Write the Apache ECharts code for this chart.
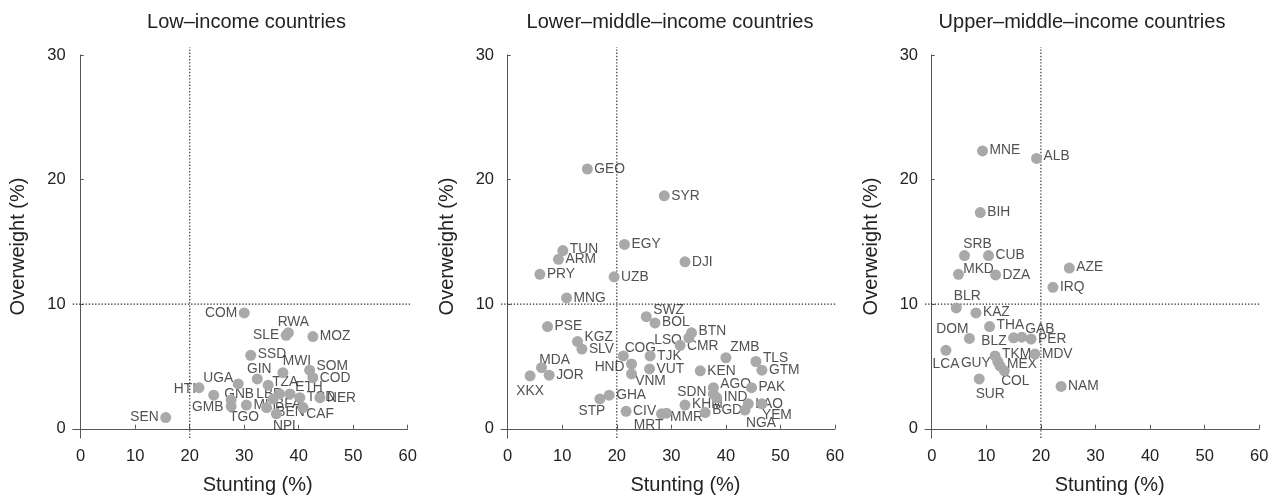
<!DOCTYPE html>
<html><head><meta charset="utf-8">
<script src="https://cdn.jsdelivr.net/npm/echarts@6/dist/echarts.min.js"></script>
<style>html,body{margin:0;padding:0;background:#fff}#c{width:1281px;height:500px}</style>
</head><body><div id="c"></div><script>
const panelTitles = ['Low–income countries', 'Lower–middle–income countries', 'Upper–middle–income countries'];
const xAxisName = 'Stunting (%)';
const yAxisName = 'Overweight (%)';
const xTicks = [0, 10, 20, 30, 40, 50, 60];
const yTicks = [0, 10, 20, 30];
const stuntingCut = 20;
const overweightCut = 10;

// Low-income countries
const lowCodes     = ['COM','RWA','SLE','MOZ','SSD','MWI','SOM','COD','GIN','UGA','HTI','TZA','GMB','GNB','TGO','MLI','LBR','ETH','TCD','NER','BFA','BEN','NPL','CAF','SEN'];
const lowStunting  = [30.0, 38.1, 37.7, 42.6, 31.2, 37.1, 42.0, 42.6, 32.4, 28.9, 21.7, 34.4, 24.4, 27.6, 27.6, 30.4, 36.5, 38.4, 40.2, 43.9, 35.3, 34.1, 35.9, 40.8, 15.6];
const lowOverweight= [9.3,  7.7,  7.5,  7.4,  5.9,  4.5,  4.7,  4.1,  4.0,  3.6,  3.3,  3.5,  2.7,  2.3,  1.8,  1.9,  2.8,  2.8,  2.5,  2.5,  2.4,  1.7,  1.2,  1.7,  0.9];

// Lower-middle-income countries
const lmCodes      = ['GEO','SYR','EGY','TUN','ARM','DJI','PRY','UZB','MNG','SWZ','BOL','PSE','BTN','LSO','KGZ','SLV','CMR','COG','TJK','HND','VUT','VNM','ZMB','TLS','GTM','KEN','MDA','JOR','XKX','AGO','PAK','GHA','STP','SDN','IND','KHM','LAO','YEM','BGD','NGA','CIV','MRT','MMR'];
const lmStunting   = [14.6, 28.7, 21.4, 10.1, 9.3, 32.5, 5.9, 19.5, 10.8, 25.4, 27.0, 7.3, 33.7, 33.2, 12.8, 13.6, 31.6, 21.2, 26.1, 22.7, 26.0, 22.7, 40.0, 45.5, 46.6, 35.3, 6.2, 7.6, 4.1, 37.7, 44.7, 18.6, 16.9, 37.7, 38.3, 32.5, 44.1, 46.6, 36.2, 43.5, 21.7, 28.2, 29.1];
const lmOverweight = [20.85, 18.7, 14.8, 14.3, 13.6, 13.4, 12.4, 12.2, 10.5, 9.0, 8.5, 8.2, 7.7, 7.3, 7.0, 6.4, 6.7, 5.85, 5.85, 5.2, 4.8, 4.4, 5.7, 5.4, 4.7, 4.65, 4.9, 4.3, 4.25, 3.3, 3.3, 2.7, 2.4, 2.8, 2.5, 1.9, 2.0, 2.0, 1.3, 1.5, 1.4, 1.2, 1.25];

// Upper-middle-income countries
const umCodes      = ['MNE','ALB','BIH','SRB','CUB','MKD','DZA','AZE','IRQ','BLR','KAZ','THA','DOM','BLZ','GAB','PER','LCA','MDV','TKM','GUY','MEX','COL','SUR','NAM'];
const umStunting   = [9.3, 19.2, 8.9, 6.0, 10.4, 4.9, 11.7, 25.2, 22.2, 4.5, 8.1, 10.6, 6.9, 15.0, 16.5, 18.2, 2.6, 18.9, 11.6, 12.1, 12.5, 13.3, 8.7, 23.7];
const umOverweight = [22.3, 21.7, 17.35, 13.9, 13.9, 12.4, 12.35, 12.9, 11.35, 9.7, 9.3, 8.2, 7.25, 7.3, 7.35, 7.2, 6.3, 6.0, 5.85, 5.4, 5.05, 4.65, 4.0, 3.4];

// label placement (style only): [side, dx, dy]
const labelPlace = {
  COM:['l',0,0], RWA:['c',5,-11], SLE:['l',0,0], MOZ:['r',0,0], SSD:['r',0,-1], MWI:['c',14,-12], SOM:['r',0,-4], COD:['r',0,0],
  GIN:['c',2,-10], UGA:['c',-20,-6], HTI:['l',4,2], TZA:['c',17,-3], GMB:['c',-6,12], GNB:['c',8,-6], TGO:['c',13,11], MLI:['r',0,0],
  LBR:['c',-10,0], ETH:['c',19,-7], TCD:['r',0,0], NER:['r',0,1], BFA:['c',15,5], BEN:['c',24,5], NPL:['c',10,12], CAF:['c',17,7], SEN:['l',0,0],
  GEO:['r',0,0], SYR:['r',0,0], EGY:['r',0,0], TUN:['r',0,-1], ARM:['r',0,0], DJI:['r',0,0], PRY:['r',0,0], UZB:['r',0,0], MNG:['r',0,0],
  SWZ:['r',0,-6], BOL:['r',0,-1], PSE:['r',0,0], BTN:['r',0,-2], LSO:['l',0,2], KGZ:['r',0,-4], SLV:['r',0,0], CMR:['r',0,1],
  COG:['c',17,-8], TJK:['r',0,0], HND:['l',0,3], VUT:['r',0,0], VNM:['c',19,7], ZMB:['c',19,-11], TLS:['r',0,-3], GTM:['r',0,0],
  KEN:['r',0,0], MDA:['c',13,-8], JOR:['r',0,0], XKX:['b',0,1], AGO:['r',0,-3], PAK:['r',0,0], GHA:['r',0,0], STP:['c',-8,12],
  SDN:['l',0,-2], IND:['r',0,0], KHM:['r',0,-1], LAO:['r',0,0], YEM:['c',15,11], BGD:['r',0,-2], NGA:['c',16,13], CIV:['r',0,0],
  MRT:['c',-13,11], MMR:['c',20,4],
  MNE:['r',0,-1], ALB:['r',0,-2], BIH:['r',0,0], SRB:['c',13,-11], CUB:['r',0,0], MKD:['c',20,-5], DZA:['r',0,0], AZE:['r',0,-1],
  IRQ:['r',0,0], BLR:['c',11,-12], KAZ:['r',0,-1], THA:['r',0,-1], DOM:['c',-17,-9], BLZ:['l',0,3], GAB:['c',18,-8], PER:['r',0,0],
  LCA:['b',0,0], MDV:['r',0,0], TKM:['r',0,-2], GUY:['l',0,2], MEX:['r',0,-2], COL:['c',11,10], SUR:['c',11,15], NAM:['r',0,0]
};

const panels = [
  {codes: lowCodes, xs: lowStunting, ys: lowOverweight},
  {codes: lmCodes, xs: lmStunting, ys: lmOverweight},
  {codes: umCodes, xs: umStunting, ys: umOverweight}
];

const FONT = '"Liberation Sans", Arial, Helvetica, sans-serif';
const gridLeft = [72.7, 501, 925];
const gridWidth = [335, 334, 334.3];
const xMin = [-1.47, -1.23, -1.23];
const yMin = -0.74;
const refXEnd = 61.3, refYEnd = 30.65;
const ptColor = '#a9a9a9';
const axisColor = '#555';
const SYM = 11, R = SYM / 2, GAP = 1.5;

function labelCfg(lp) {
  const [side, dx, dy] = lp;
  if (side === 'r') return {position: [SYM + GAP + dx, R + dy], align: 'left', verticalAlign: 'middle'};
  if (side === 'l') return {position: [-GAP + dx, R + dy], align: 'right', verticalAlign: 'middle'};
  if (side === 'b') return {position: [R + dx, SYM + GAP + dy], align: 'center', verticalAlign: 'top'};
  if (side === 't') return {position: [R + dx, -GAP + dy], align: 'center', verticalAlign: 'bottom'};
  return {position: [R + dx, R + dy], align: 'center', verticalAlign: 'middle'};
}

const grid = [], xAxis = [], yAxis = [], series = [], graphic = [];

panels.forEach((p, i) => {
  grid.push({left: gridLeft[i], width: gridWidth[i], top: 55, height: 386, containLabel: false});
  xAxis.push({
    type: 'value', gridIndex: i, min: xMin[i], max: 60,
    axisLine: {show: true, lineStyle: {color: axisColor, width: 1}},
    axisTick: {show: true, inside: true, length: 4, lineStyle: {color: axisColor}, customValues: xTicks},
    axisLabel: {customValues: xTicks, fontSize: 16.5, color: '#222', fontFamily: FONT, margin: 10},
    splitLine: {show: false},
    name: xAxisName, nameLocation: 'middle', nameGap: 37,
    nameTextStyle: {fontSize: 20, color: '#222', fontFamily: FONT, padding: [0, 0, 0, 35]}
  });
  yAxis.push({
    type: 'value', gridIndex: i, min: yMin, max: 30,
    axisLine: {show: true, lineStyle: {color: axisColor, width: 1}},
    axisTick: {show: true, inside: true, length: 3, lineStyle: {color: axisColor}, customValues: yTicks},
    axisLabel: {customValues: yTicks, fontSize: 16.5, color: '#222', fontFamily: FONT, margin: 7},
    splitLine: {show: false},
    name: yAxisName, nameLocation: 'middle', nameGap: 44, nameRotate: 90,
    nameTextStyle: {fontSize: 20, color: '#222', fontFamily: FONT}
  });
  const refStyle = {color: '#333', width: 1.2, type: [1.4, 1.8]};
  series.push({
    type: 'line', xAxisIndex: i, yAxisIndex: i, data: [[stuntingCut, yMin], [stuntingCut, refYEnd]],
    symbol: 'none', clip: false, silent: true, lineStyle: refStyle, z: 1
  });
  series.push({
    type: 'line', xAxisIndex: i, yAxisIndex: i, data: [[xMin[i], overweightCut], [refXEnd, overweightCut]],
    symbol: 'none', clip: false, silent: true, lineStyle: refStyle, z: 1
  });
  const data = p.codes.map((c, k) => ({
    value: [p.xs[k], p.ys[k]], name: c,
    label: labelCfg(labelPlace[c] || ['r', 0, 0])
  }));
  series.push({
    type: 'scatter', xAxisIndex: i, yAxisIndex: i, data: data, symbolSize: SYM, silent: true, clip: false, z: 2,
    itemStyle: {color: 'rgba(0,0,0,0)'},
    label: {show: true, formatter: d => d.name, fontSize: 13.8, color: '#262626', fontFamily: FONT},
    labelLayout: {hideOverlap: false}
  });
  series.push({
    type: 'scatter', xAxisIndex: i, yAxisIndex: i, data: p.codes.map((c, k) => [p.xs[k], p.ys[k]]),
    symbolSize: SYM, silent: true, clip: false, z: 3,
    itemStyle: {color: ptColor, opacity: 1}
  });
});

const titleX = [246.5, 670, 1082];
panelTitles.forEach((t, i) => {
  graphic.push({type: 'text', x: titleX[i], y: 22, silent: true,
    style: {text: t, fill: '#222', font: '20px ' + FONT, textAlign: 'center', textVerticalAlign: 'middle'}});
});

const chart = echarts.init(document.getElementById('c'), null, {renderer: 'canvas'});
chart.setOption({animation: false, backgroundColor: '#fff', grid, xAxis, yAxis, series, graphic});
</script></body></html>
